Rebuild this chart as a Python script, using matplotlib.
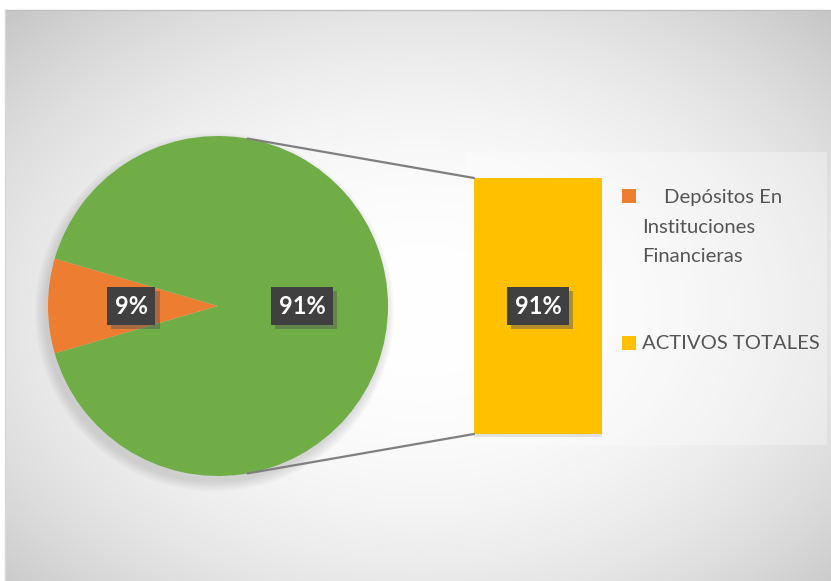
import matplotlib
matplotlib.use("Agg")
import matplotlib.pyplot as plt
import matplotlib.patheffects as pe
from matplotlib.patches import Rectangle, ConnectionPatch, Circle
import numpy as np

# datos
categories = ['Depósitos En Instituciones Financieras', 'ACTIVOS TOTALES']
legend_lines = [['Depósitos En', 'Instituciones', 'Financieras'], ['ACTIVOS TOTALES']]
pie_values = [9, 91]
pie_labels = ['9%', '91%']
bar_values = [91]
bar_labels = ['91%']
pie_colors = ['#ED7D31', '#70AD47']
bar_color = '#FFC000'

W, H = 831, 581
plt.rcParams['font.family'] = ['Lato', 'DejaVu Sans']

fig = plt.figure(figsize=(W / 100, H / 100), dpi=100)


def box(x, y, w, h):
    # rectangulo en pixeles (arriba-izquierda) -> fraccion de figura
    return [x / W, 1 - (y + h) / H, w / W, h / H]


# fondo con degradado radial
bg = fig.add_axes([0, 0, 1, 1])
bg.set_xlim(0, W)
bg.set_ylim(H, 0)
bg.axis('off')
yy, xx = np.mgrid[10:H, 5:W]
r = np.sqrt(((xx - 420) / 420.0) ** 2 + ((yy - 310) / 300.0) ** 2) / np.sqrt(2)
t = np.clip(r, 0, 1) ** 2.2
g = 1 - t * (1 - 0.77)
bg.imshow(np.dstack([g, g, g]), extent=(5, W, H, 10), aspect='auto', zorder=0)
bg.plot([5, W], [10, 10], color='#c0c0c0', lw=1, zorder=1)
bg.plot([5, 5], [10, H], color='#d8d8d8', lw=1, zorder=1)
bg.add_patch(Rectangle((466, 152), 361, 293, facecolor='white', alpha=0.3,
                       edgecolor='none', zorder=1))

label_style = dict(fontsize=17, fontweight='bold', color='white', ha='center', va='center',
                   bbox=dict(boxstyle='square,pad=0.32', fc='#404040', ec='none'))
shadow = [pe.SimplePatchShadow(offset=(3, -3), shadow_rgbFace='#555555', alpha=0.45), pe.Normal()]

# pastel
pax = fig.add_axes(box(28, 116, 380, 380))
for k in range(8):
    pax.add_patch(Circle((-0.02, -0.035), 1 + k * 0.008, color='#7f7f7f', alpha=0.035,
                         lw=0, zorder=0))
wedges, _ = pax.pie(pie_values, colors=pie_colors, radius=1,
                    startangle=180 - pie_values[0] / 100 * 180,
                    wedgeprops=dict(linewidth=0))
lim = 190 / 170
pax.set_xlim(-lim, lim)
pax.set_ylim(-lim, lim)
pax.set_aspect('equal')
pax.axis('off')
for w_ in wedges:
    w_.set_zorder(2)
for lbl, xpos in zip(pie_labels, [-0.51, 0.495]):
    tx = pax.text(xpos, 0, lbl, zorder=5, **label_style)
    tx.get_bbox_patch().set_path_effects(shadow)

# barra
bax = fig.add_axes(box(474, 178, 128, 256))
bars = bax.bar([0], bar_values, width=1, color=bar_color, linewidth=0)
bax.set_xlim(-0.5, 0.5)
bax.set_ylim(0, bar_values[0])
bax.axis('off')
for b in bars:
    b.set_clip_on(False)
    b.set_path_effects([pe.SimplePatchShadow(offset=(0, -2), shadow_rgbFace='#999999', alpha=0.25),
                        pe.Normal()])
tx = bax.text(0, bar_values[0] / 2, bar_labels[0], **label_style)
tx.get_bbox_patch().set_path_effects(shadow)

# lineas de conexion
ang = np.deg2rad(80)
for sgn, yb in [(1, bar_values[0]), (-1, 0)]:
    con = ConnectionPatch(xyA=(np.cos(ang), sgn * np.sin(ang)), coordsA=pax.transData,
                          xyB=(-0.5, yb), coordsB=bax.transData,
                          color='#7f7f7f', lw=1.6)
    fig.add_artist(con)

# leyenda
txt_kw = dict(fontsize=14.6, color='#555555', va='baseline', ha='left')
bg.add_patch(Rectangle((622, 189), 14, 14, facecolor=pie_colors[0], edgecolor='none', zorder=3))
bg.text(664, 203, legend_lines[0][0], **txt_kw)
for i, ln in enumerate(legend_lines[0][1:]):
    bg.text(642, 233 + i * 29, ln, **txt_kw)
bg.add_patch(Rectangle((622, 336), 14, 14, facecolor=bar_color, edgecolor='none', zorder=3))
bg.text(642, 349, legend_lines[1][0], **txt_kw)

fig.savefig('out.png', dpi=100)
